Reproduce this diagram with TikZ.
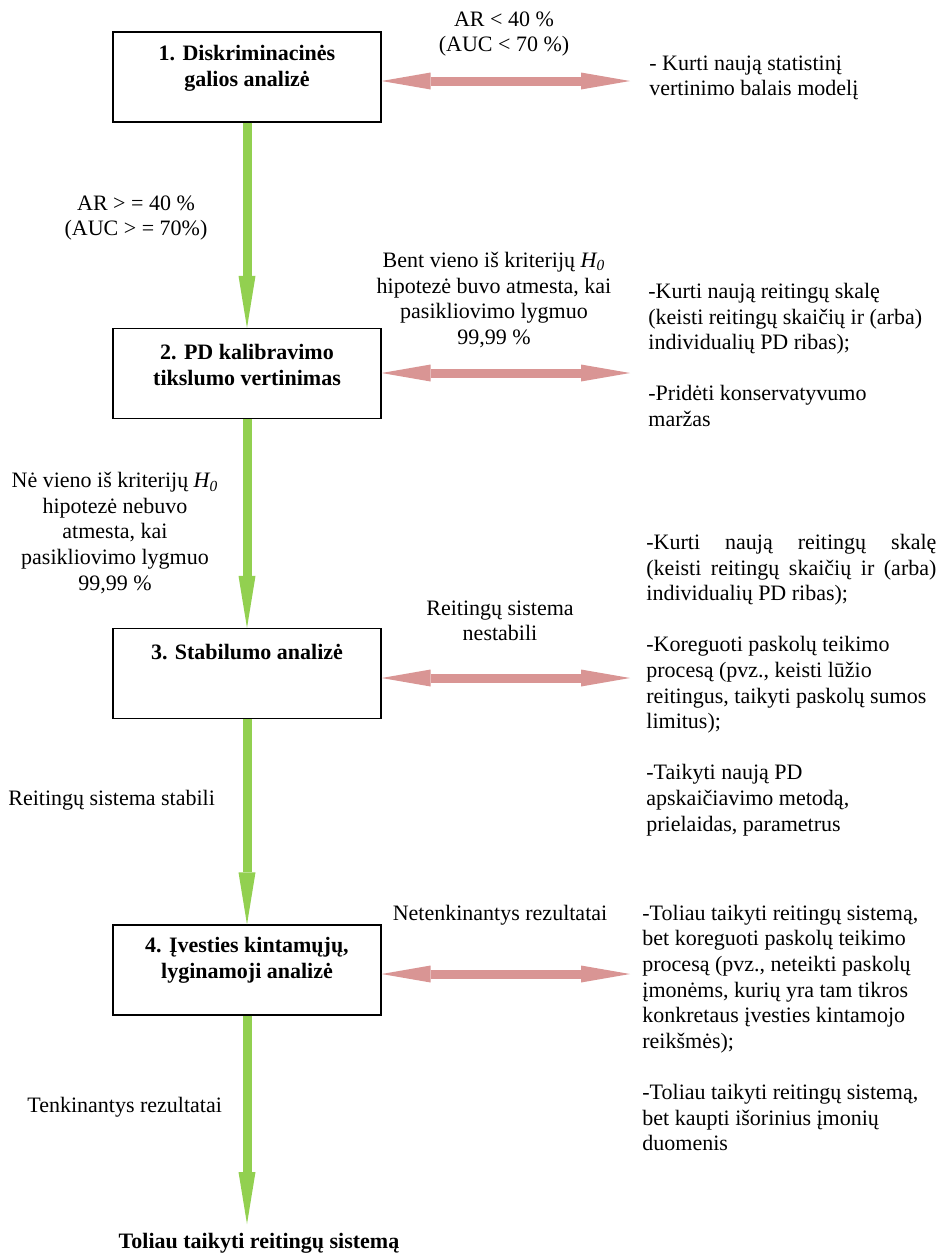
\documentclass[tikz,border=0pt]{standalone}
\usepackage{fontspec}
\setmainfont{Liberation Serif}
\usetikzlibrary{arrows.meta}
\definecolor{flowgreen}{RGB}{146,208,80}
\definecolor{flowpink}{RGB}{217,149,148}

\begin{document}
\begin{tikzpicture}[
	x=0.5pt, y=-0.5pt,
	stage/.style={ rectangle, draw, line width=0.6pt, minimum width=134pt, minimum height=45pt, inner sep=0pt },
	stagetext/.style={ align=center, inner sep=0pt, font=\fontsize{11}{12.8}\selectfont\bfseries },
	cond/.style={ align=center, inner sep=0pt, font=\fontsize{11}{12.8}\selectfont },
	action/.style={ align=left, anchor=west, inner sep=0pt, font=\fontsize{11}{12.8}\selectfont },
	passarrow/.style={ flowgreen, line width=4.5pt, -{Triangle[length=26pt,width=8.5pt,line width=0pt]} },
	failarrow/.style={ flowpink, line width=4.5pt, {Triangle[length=24.5pt,width=8.5pt,line width=0pt]}-{Triangle[length=24.5pt,width=8.5pt,line width=0pt]} }
]
\useasboundingbox (0,0) rectangle (940,1254);

\node at (247,77) (d1) [stage] {};
\node at (247,373.5) (d2) [stage] {};
\node at (247,673.5) (d3) [stage] {};
\node at (247,970) (d4) [stage] {};

\node at (247,68) (t1) [stagetext] {1. Diskriminacinės\\galios analizė};
\node at (247,365) (t2) [stagetext] {2. PD kalibravimo\\tikslumo vertinimas};
\node at (247,652) (t3) [stagetext] {3. Stabilumo analizė};
\node at (247,960) (t4) [stagetext] {4. Įvesties kintamųjų,\\lyginamoji analizė};
\node at (259,1243) (keep) [stagetext] {Toliau taikyti reitingų sistemą};

\coordinate (o1) at (630,81);
\coordinate (o2) at (630,373);
\coordinate (o3) at (630,678);
\coordinate (o4) at (630,974);
\coordinate (stop) at (247,1224);

\draw[passarrow] (d1) -- (d2);
\draw[passarrow] (d2) -- (d3);
\draw[passarrow] (d3) -- (d4);
\draw[passarrow] (d4) -- (stop);

\draw[failarrow] (d1.east |- o1) -- (o1);
\draw[failarrow] (d2.east |- o2) -- (o2);
\draw[failarrow] (d3.east |- o3) -- (o3);
\draw[failarrow] (d4.east |- o4) -- (o4);

\node at (504,34) (fail1) [cond] {AR < 40 \%\\(AUC < 70 \%)};
\node at (494,300) (fail2) [cond] {Bent vieno iš kriterijų \textit{H\textsubscript{0}}\\hipotezė buvo atmesta, kai\\pasikliovimo lygmuo\\99,99 \%};
\node at (500,621) (fail3) [cond] {Reitingų sistema\\nestabili};
\node at (500,915) (fail4) [cond] {Netenkinantys rezultatai};

\node at (136,218) (pass1) [cond] {AR > = 40 \%\\(AUC > = 70\%)};
\node at (115,533) (pass2) [cond] {Nė vieno iš kriterijų \textit{H\textsubscript{0}}\\hipotezė nebuvo\\atmesta, kai\\pasikliovimo lygmuo\\99,99 \%};
\node at (8,800) (pass3) [action] {Reitingų sistema stabili};
\node at (27,1107) (pass4) [action] {Tenkinantys rezultatai};

\node at (649,78) (act1) [action] {- Kurti naują statistinį\\vertinimo balais modelį};
\node at (648,355) (act2) [action] {-Kurti naują reitingų skalę\\(keisti reitingų skaičių ir (arba)\\individualių PD ribas);\\[12.8pt]-Pridėti konservatyvumo\\maržas};
\node at (646,685) (act3) [action] {\makebox[145pt][s]{-Kurti naują reitingų skalę}\\\makebox[145pt][s]{(keisti reitingų skaičių ir (arba)}\\individualių PD ribas);\\[12.8pt]-Koreguoti paskolų teikimo\\procesą (pvz., keisti lūžio\\reitingus, taikyti paskolų sumos\\limitus);\\[12.8pt]-Taikyti naują PD\\apskaičiavimo metodą,\\prielaidas, parametrus};
\node at (642,1028) (act4) [action] {-Toliau taikyti reitingų sistemą,\\bet koreguoti paskolų teikimo\\procesą (pvz., neteikti paskolų\\įmonėms, kurių yra tam tikros\\konkretaus įvesties kintamojo\\reikšmės);\\[12.8pt]-Toliau taikyti reitingų sistemą,\\bet kaupti išorinius įmonių\\duomenis};

\end{tikzpicture}
\end{document}
